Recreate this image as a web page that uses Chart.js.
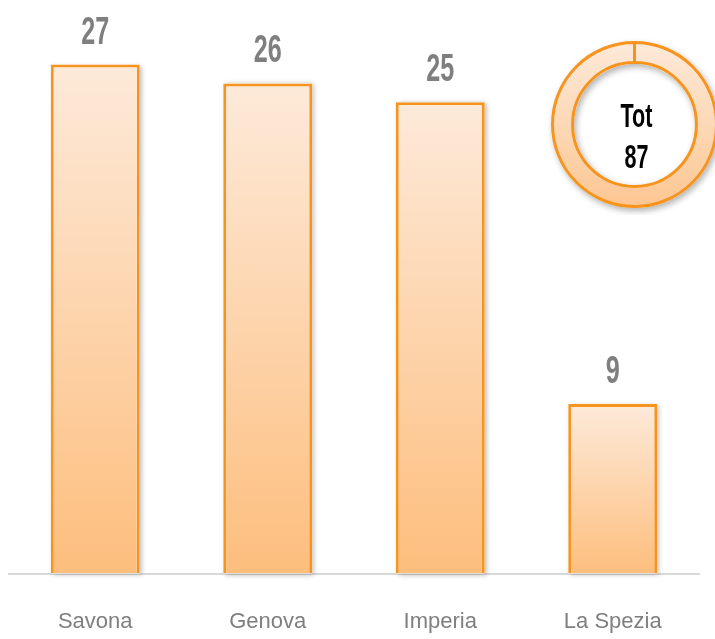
<!DOCTYPE html>
<html><head><meta charset="utf-8">
<script src="https://cdn.jsdelivr.net/npm/chart.js@4/dist/chart.umd.min.js"></script>
<style>
html,body{margin:0;padding:0;background:#fff;overflow:hidden;}
#wrap{position:relative;width:715px;height:639px;overflow:hidden;}
#bar{position:absolute;left:0;top:0;}
#donutBox{position:absolute;left:545px;top:35px;width:180px;height:180px;}
</style></head><body>
<div id="wrap">
<canvas id="bar" width="715" height="639"></canvas>
<div id="donutBox"><canvas id="donut" width="180" height="180"></canvas></div>
</div>
<script>
// ---- data ----
const categories = ['Savona', 'Genova', 'Imperia', 'La Spezia'];
const values = [27, 26, 25, 9];
const totalLabel = 'Tot';
const totalValue = [87];

// ---- styles ----
const ORANGE = '#F7941E';
const LIGHT = 'rgb(253,234,218)';
const DARK = 'rgb(253,190,125)';
const GRAY = '#7F7F7F';
const FAMILY = "'Liberation Sans Narrow','Liberation Sans',Arial,sans-serif";

function condensedText(c, text, x, y, size, digitW, color) {
  c.save();
  c.font = 'bold ' + size + 'px ' + FAMILY;
  const sx = digitW / c.measureText('0').width;
  c.translate(x, y);
  c.scale(sx, 1);
  c.fillStyle = color;
  c.textAlign = 'center';
  c.textBaseline = 'alphabetic';
  c.fillText(text, 0, 0);
  c.restore();
}

const barShadow = {
  id: 'barShadow',
  beforeDatasetsDraw(chart) {
    const c = chart.ctx;
    const meta = chart.getDatasetMeta(0);
    c.save();
    c.shadowColor = 'rgba(0,0,0,0.28)';
    c.shadowBlur = 5;
    c.shadowOffsetX = 2;
    c.shadowOffsetY = 1;
    c.fillStyle = '#fff';
    meta.data.forEach(el => {
      const p = el.getProps(['x', 'y', 'width', 'base'], true);
      c.fillRect(p.x - p.width / 2, p.y, p.width, p.base - p.y);
    });
    c.restore();
  },
  afterDatasetsDraw(chart) {
    const c = chart.ctx;
    const meta = chart.getDatasetMeta(0);
    meta.data.forEach((el, i) => {
      const p = el.getProps(['x', 'y'], true);
      condensedText(c, String(values[i]), p.x, p.y - 21, 39, 14, GRAY);
    });
  }
};

new Chart(document.getElementById('bar'), {
  type: 'bar',
  data: {
    labels: categories,
    datasets: [{
      data: values,
      backgroundColor(ctx) {
        const chart = ctx.chart;
        if (!chart.chartArea || ctx.parsed === undefined) return DARK;
        const ys = chart.scales.y;
        const top = ys.getPixelForValue(ctx.parsed.y);
        const bot = ys.getPixelForValue(0);
        const g = chart.ctx.createLinearGradient(0, top, 0, bot);
        g.addColorStop(0, LIGHT);
        g.addColorStop(1, DARK);
        return g;
      },
      borderColor: ORANGE,
      borderWidth: 3,
      borderSkipped: 'start',
      categoryPercentage: 1,
      barPercentage: 0.516
    }]
  },
  options: {
    responsive: false,
    animation: false,
    layout: { padding: { top: 8, left: 9, right: 16, bottom: -31 } },
    plugins: { legend: { display: false }, tooltip: { enabled: false } },
    scales: {
      x: {
        grid: { display: false, drawTicks: false },
        border: { display: true, color: '#D9D9D9', width: 2 },
        ticks: {
          color: GRAY,
          padding: 35,
          font: { family: "'Liberation Sans',Arial,sans-serif", size: 22 }
        }
      },
      y: { display: false, min: 0, max: 30 }
    }
  },
  plugins: [barShadow]
});

const donutDecor = {
  id: 'donutDecor',
  beforeDatasetsDraw(chart) {
    const arc = chart.getDatasetMeta(0).data[0];
    const p = arc.getProps(['x', 'y', 'innerRadius', 'outerRadius'], true);
    const c = chart.ctx;
    c.save();
    c.shadowColor = 'rgba(0,0,0,0.3)';
    c.shadowBlur = 6;
    c.shadowOffsetX = 2;
    c.shadowOffsetY = 3;
    c.fillStyle = '#fff';
    c.beginPath();
    c.arc(p.x, p.y, p.outerRadius + 1.5, 0, Math.PI * 2);
    c.arc(p.x, p.y, p.innerRadius - 1.5, 0, Math.PI * 2, true);
    c.fill();
    c.restore();
  },
  afterDatasetsDraw(chart) {
    const arc = chart.getDatasetMeta(0).data[0];
    const p = arc.getProps(['x', 'y'], true);
    const c = chart.ctx;
    condensedText(c, totalLabel, p.x + 2, p.y + 2, 34, 12, '#000');
    condensedText(c, String(totalValue[0]), p.x + 2, p.y + 43, 34, 12, '#000');
  }
};

new Chart(document.getElementById('donut'), {
  type: 'doughnut',
  data: {
    labels: [totalLabel],
    datasets: [{
      data: totalValue,
      backgroundColor(ctx) {
        const chart = ctx.chart;
        const a = chart.chartArea;
        if (!a) return DARK;
        const g = chart.ctx.createLinearGradient(0, a.top, 0, a.bottom);
        g.addColorStop(0, LIGHT);
        g.addColorStop(1, 'rgb(252,198,146)');
        return g;
      },
      borderColor: ORANGE,
      borderWidth: 3
    }]
  },
  options: {
    responsive: false,
    animation: false,
    cutout: '75.5%',
    layout: { padding: { left: 6, right: 7, top: 6, bottom: 7 } },
    plugins: { legend: { display: false }, tooltip: { enabled: false } }
  },
  plugins: [donutDecor]
});
</script>
</body></html>
